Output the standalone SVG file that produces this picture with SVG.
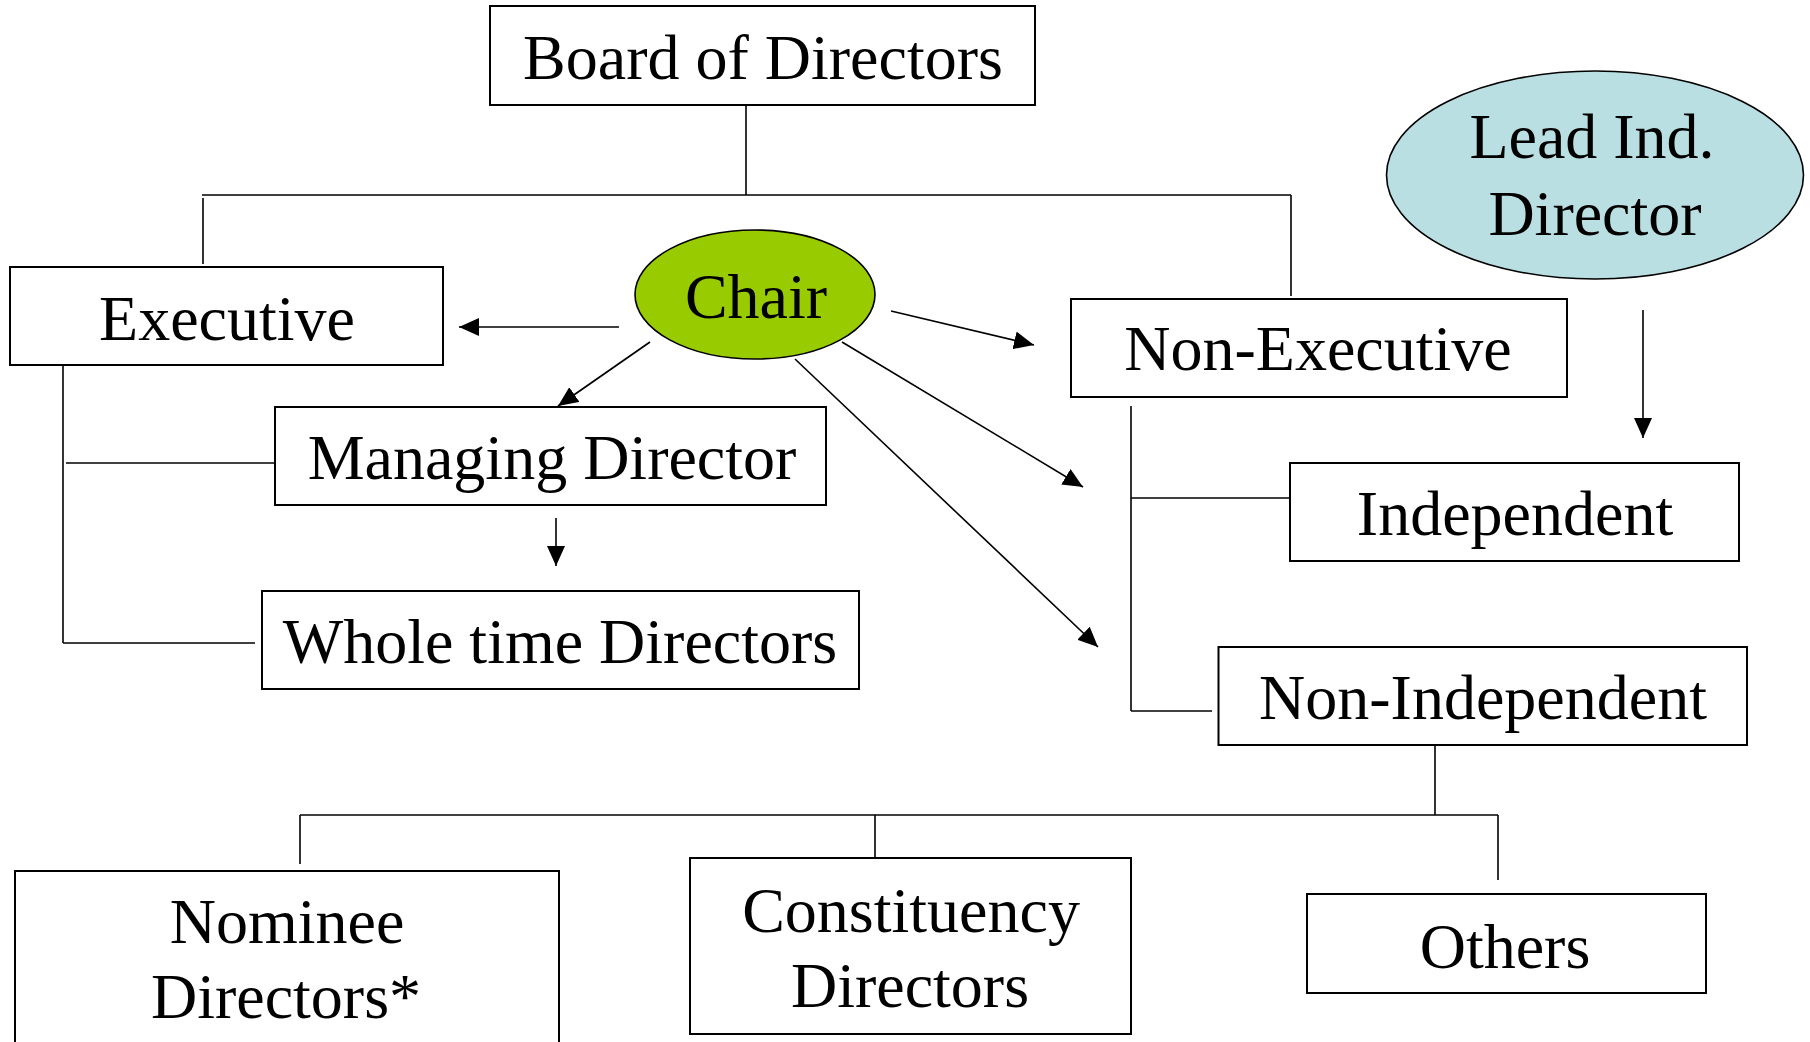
<svg xmlns="http://www.w3.org/2000/svg" width="1810" height="1042" viewBox="0 0 1810 1042">
<style>
.box{fill:#fff;stroke:#000;stroke-width:2}
.lbl{font-family:"Liberation Serif","Times New Roman",serif;font-size:64px;fill:#000;text-anchor:middle}
.ln{fill:none;stroke:#000;stroke-width:1.6}
.arr{fill:none;stroke:#000;stroke-width:1.6;marker-end:url(#ah)}
</style>
<defs>
<marker id="ah" viewBox="0 0 20 18" refX="20" refY="9" markerWidth="20" markerHeight="18" markerUnits="userSpaceOnUse" orient="auto">
<path d="M0,0 L20,9 L0,18 z" fill="#000"/>
</marker>
</defs>
<rect width="1810" height="1042" fill="#fff"/>
<g id="connectors">
<line class="ln" x1="746" y1="105" x2="746" y2="195"/>
<line class="ln" x1="202" y1="195" x2="1291" y2="195"/>
<line class="ln" x1="203" y1="198" x2="203" y2="264"/>
<line class="ln" x1="1291" y1="195" x2="1291" y2="296"/>
<line class="ln" x1="63" y1="365" x2="63" y2="643"/>
<line class="ln" x1="66" y1="463" x2="275" y2="463"/>
<line class="ln" x1="63" y1="643" x2="255" y2="643"/>
<line class="ln" x1="1131" y1="406" x2="1131" y2="711"/>
<line class="ln" x1="1131" y1="498" x2="1290" y2="498"/>
<line class="ln" x1="1131" y1="711" x2="1212" y2="711"/>
<line class="ln" x1="1435" y1="738" x2="1435" y2="815"/>
<line class="ln" x1="300" y1="815" x2="1498" y2="815"/>
<line class="ln" x1="300" y1="815" x2="300" y2="864"/>
<line class="ln" x1="875" y1="815" x2="875" y2="864"/>
<line class="ln" x1="1498" y1="815" x2="1498" y2="880"/>
<line class="arr" x1="619" y1="327" x2="459" y2="327"/>
<line class="arr" x1="891" y1="311" x2="1034" y2="345"/>
<line class="arr" x1="650" y1="342" x2="558" y2="406"/>
<line class="arr" x1="842" y1="342" x2="1083" y2="487"/>
<line class="arr" x1="795" y1="359" x2="1098" y2="647"/>
<line class="arr" x1="556" y1="518" x2="556" y2="566"/>
<line class="arr" x1="1643" y1="310" x2="1643" y2="438"/>
</g>
<g id="board">
<rect class="box" x="490" y="6" width="545" height="99"/>
<text class="lbl" x="763" y="79">Board of Directors</text>
</g>
<g id="executive">
<rect class="box" x="10" y="267" width="433" height="98"/>
<text class="lbl" x="227" y="340">Executive</text>
</g>
<g id="chair">
<ellipse cx="755" cy="294.5" rx="120" ry="64.5" fill="#99cc00" stroke="#000" stroke-width="1.6"/>
<text class="lbl" x="756" y="318">Chair</text>
</g>
<g id="lead">
<ellipse cx="1595" cy="175" rx="208.5" ry="104" fill="#b9dfe2" stroke="#000" stroke-width="1.6"/>
<text class="lbl" x="1592" y="158">Lead Ind.</text>
<text class="lbl" x="1595" y="235">Director</text>
</g>
<g id="nonexecutive">
<rect class="box" x="1071" y="299" width="496" height="98"/>
<text class="lbl" x="1318" y="370">Non-Executive</text>
</g>
<g id="managing">
<rect class="box" x="275" y="407" width="551" height="98"/>
<text class="lbl" x="552" y="479">Managing Director</text>
</g>
<g id="wholetime">
<rect class="box" x="262" y="591" width="597" height="98"/>
<text class="lbl" x="560" y="663">Whole time Directors</text>
</g>
<g id="independent">
<rect class="box" x="1290" y="463" width="449" height="98"/>
<text class="lbl" x="1515" y="535">Independent</text>
</g>
<g id="nonindependent">
<rect class="box" x="1218.5" y="647" width="528.5" height="98"/>
<text class="lbl" x="1483" y="719">Non-Independent</text>
</g>
<g id="nominee">
<rect class="box" x="15" y="871" width="544" height="220"/>
<text class="lbl" x="287" y="943">Nominee</text>
<text class="lbl" x="286" y="1018">Directors*</text>
</g>
<g id="constituency">
<rect class="box" x="690" y="858" width="441" height="176"/>
<text class="lbl" x="911" y="932">Constituency</text>
<text class="lbl" x="910" y="1007">Directors</text>
</g>
<g id="others">
<rect class="box" x="1307" y="894" width="399" height="99"/>
<text class="lbl" x="1505" y="968">Others</text>
</g>
</svg>
